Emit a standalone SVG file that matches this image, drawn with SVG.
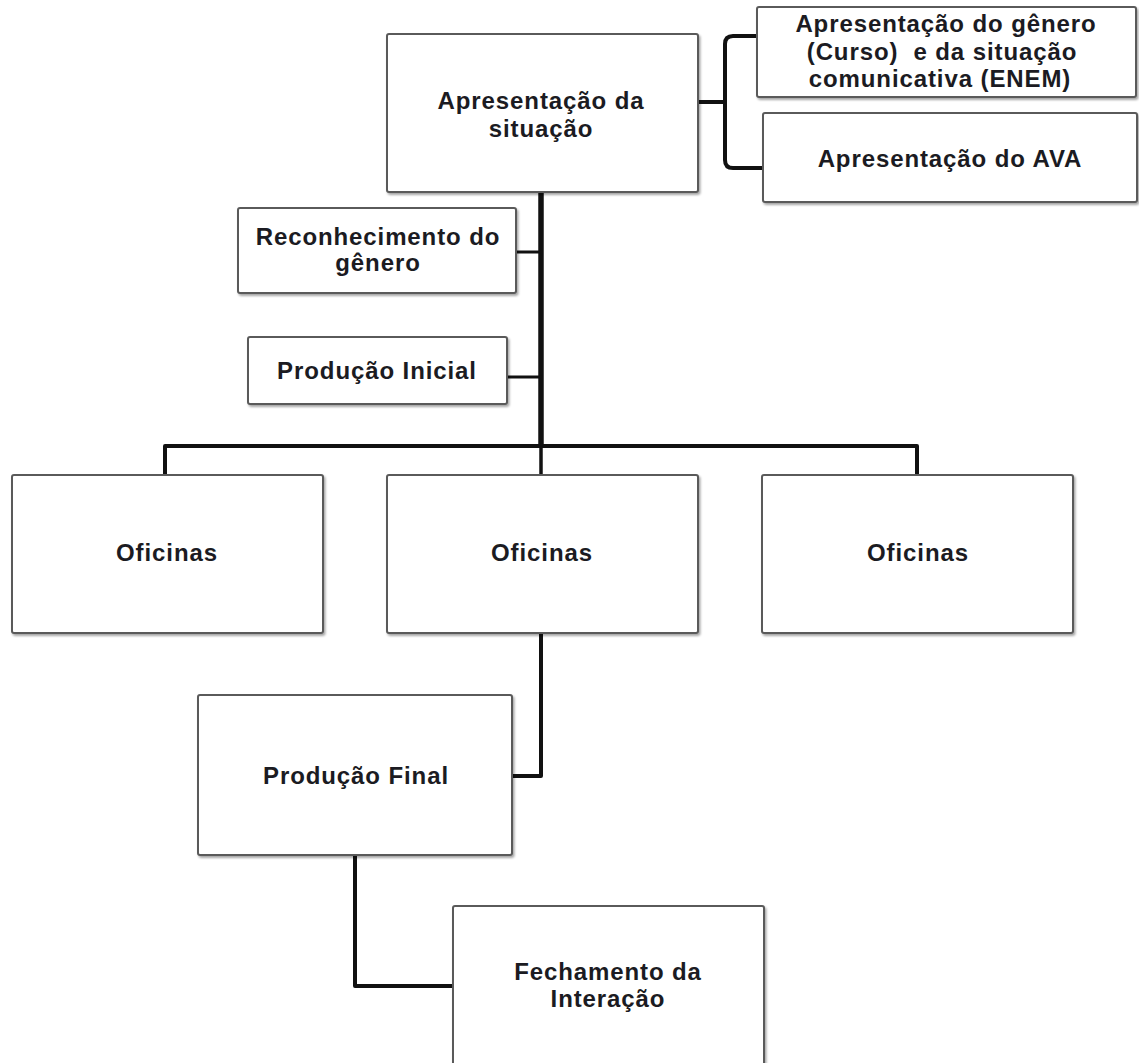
<svg xmlns="http://www.w3.org/2000/svg" width="1139" height="1063" viewBox="0 0 1139 1063">
<defs>
<filter id="sh" x="-5%" y="-5%" width="112%" height="115%">
<feDropShadow dx="1.5" dy="2" stdDeviation="1.2" flood-color="#000" flood-opacity="0.35"/>
</filter>
<style>
.box{fill:#fff;stroke:#5a5a5a;stroke-width:2;filter:url(#sh)}
.t{font-family:"Liberation Sans",Arial,sans-serif;font-weight:bold;font-size:24px;letter-spacing:0.9px;fill:#1b1b22;text-anchor:middle}
.c{fill:none;stroke:#111;stroke-linejoin:round}
</style>
</defs>
<rect width="1139" height="1063" fill="#fff"/>
<g id="connectors">
<path class="c" d="M541,192 V446" stroke-width="5.5"/>
<path class="c" d="M165,475 V446 H917 V475" stroke-width="4"/>
<path class="c" d="M541,446 V475" stroke-width="3.5"/>
<path class="c" d="M516,252 H541" stroke-width="3"/>
<path class="c" d="M507,377 H541" stroke-width="3"/>
<path class="c" d="M698,102 H725" stroke-width="4"/>
<path class="c" d="M757,36 H733 Q725,36 725,44 V160 Q725,168 733,168 H763" stroke-width="4"/>
<path class="c" d="M541,633 V776 H512" stroke-width="4"/>
<path class="c" d="M355,855 V986 H453" stroke-width="4"/>
</g>
<g id="n-situacao">
<rect class="box" x="387" y="34" width="311" height="158" rx="2"/>
<text class="t" x="541" y="109">Apresentação da</text>
<text class="t" x="541" y="137">situação</text>
</g>
<g id="n-genero-curso">
<rect class="box" x="757" y="7" width="379" height="90" rx="2"/>
<text class="t" x="946" y="32">Apresentação do gênero</text>
<text class="t" x="942" y="59.5" xml:space="preserve">(Curso)  e da situação</text>
<text class="t" x="940" y="87">comunicativa (ENEM)</text>
</g>
<g id="n-ava">
<rect class="box" x="763" y="113" width="374" height="89" rx="2"/>
<text class="t" x="950" y="167">Apresentação do AVA</text>
</g>
<g id="n-reconhecimento">
<rect class="box" x="238" y="208" width="278" height="85" rx="2"/>
<text class="t" x="378" y="245">Reconhecimento do</text>
<text class="t" x="378" y="271">gênero</text>
</g>
<g id="n-producao-inicial">
<rect class="box" x="248" y="337" width="259" height="67" rx="2"/>
<text class="t" x="377" y="379">Produção Inicial</text>
</g>
<g id="n-oficinas-1">
<rect class="box" x="12" y="475" width="311" height="158" rx="2"/>
<text class="t" x="167" y="561">Oficinas</text>
</g>
<g id="n-oficinas-2">
<rect class="box" x="387" y="475" width="311" height="158" rx="2"/>
<text class="t" x="542" y="561">Oficinas</text>
</g>
<g id="n-oficinas-3">
<rect class="box" x="762" y="475" width="311" height="158" rx="2"/>
<text class="t" x="918" y="561">Oficinas</text>
</g>
<g id="n-producao-final">
<rect class="box" x="198" y="695" width="314" height="160" rx="2"/>
<text class="t" x="356" y="784">Produção Final</text>
</g>
<g id="n-fechamento">
<rect class="box" x="453" y="906" width="311" height="170" rx="2"/>
<text class="t" x="608" y="980">Fechamento da</text>
<text class="t" x="608" y="1007">Interação</text>
</g>
</svg>
